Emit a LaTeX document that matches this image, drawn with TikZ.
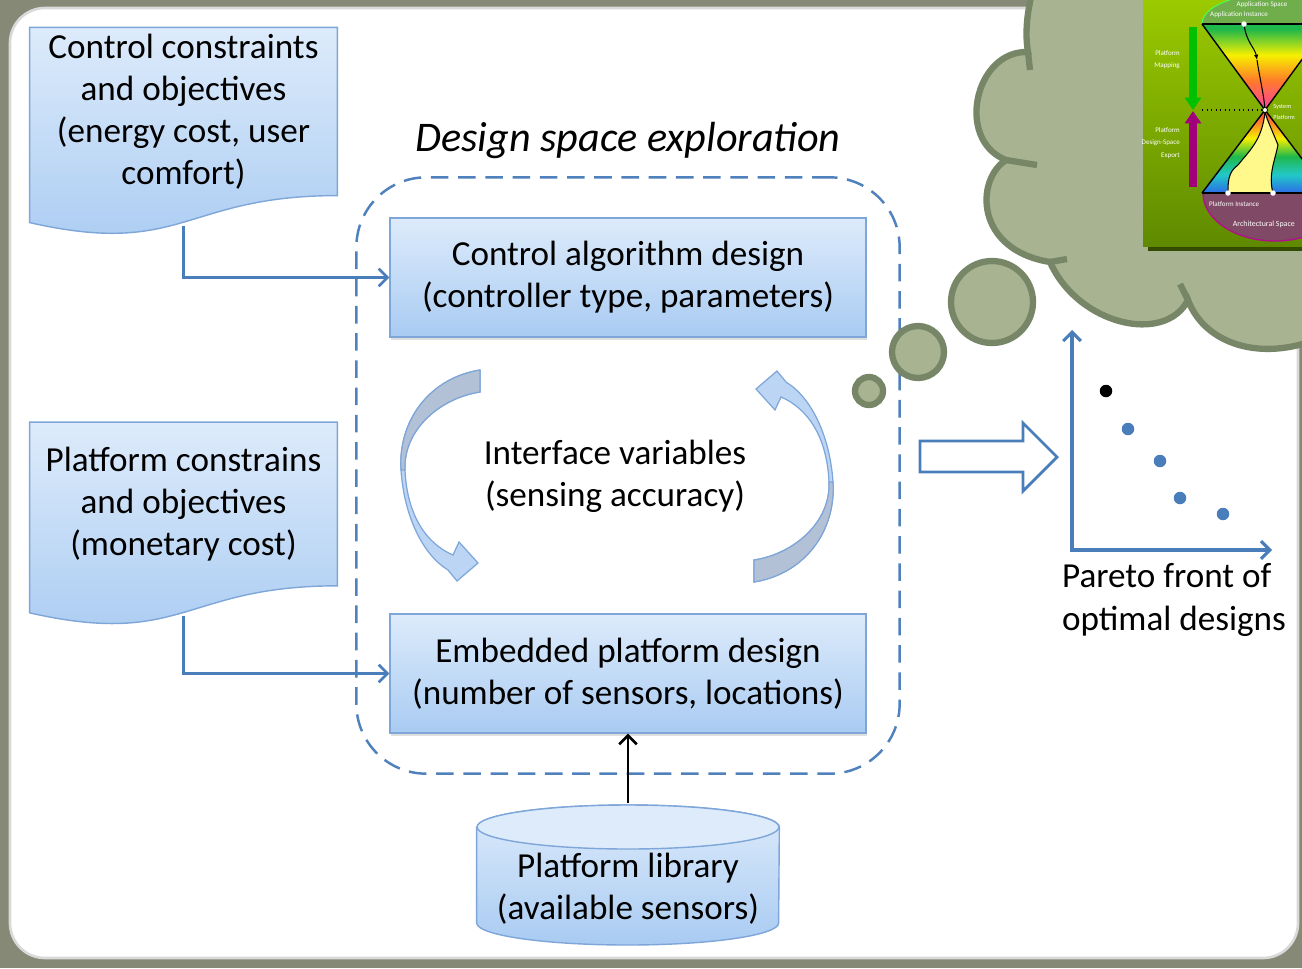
\documentclass[tikz,border=0pt]{standalone}
\usepackage{fontspec}
\setmainfont{Carlito}
\usetikzlibrary{positioning, calc, fit, backgrounds, shadows, arrows.meta}

\definecolor{slidebg}{RGB}{133,137,118}
\definecolor{boxline}{HTML}{7EA6D9}
\definecolor{boxtop}{HTML}{DDEBFB}
\definecolor{boxbottom}{HTML}{A9CBF2}
\definecolor{linkblue}{HTML}{4A7EBB}
\definecolor{dashblue}{HTML}{4F81BD}
\definecolor{turnlight}{HTML}{BCD5F4}
\definecolor{turndark}{HTML}{B3C1D6}
\definecolor{cloudfill}{HTML}{A7B391}
\definecolor{cloudline}{HTML}{788668}
\definecolor{insettop}{HTML}{9CCB00}
\definecolor{insetbottom}{HTML}{5F8A00}
\definecolor{fanpink}{HTML}{FF3FA6}
\definecolor{fanorange}{HTML}{FF7A2A}
\definecolor{fanyellow}{HTML}{F6F000}
\definecolor{fangreen}{HTML}{1FB84A}
\definecolor{fancyan}{HTML}{22C8C8}
\definecolor{fanblue}{HTML}{2C6CE8}
\definecolor{fanred}{HTML}{FF4A3A}

% colour fans of the hourglass
\pgfdeclareverticalshading{upperfan}{100bp}{color(0bp)=(fanpink); color(25bp)=(fanpink); color(42bp)=(fanorange); color(57bp)=(fanyellow); color(72bp)=(fangreen); color(100bp)=(fangreen)}
\pgfdeclareverticalshading{lowerfan}{100bp}{color(0bp)=(fanblue); color(25bp)=(fanblue); color(36bp)=(fancyan); color(47bp)=(fangreen); color(58bp)=(fanyellow); color(68bp)=(fanorange); color(75bp)=(fanred); color(100bp)=(fanred)}

\tikzset{
	txt/.style={font=\fontsize{20}{24}\selectfont, align=center},
	titletxt/.style={font=\fontsize{24}{29}\selectfont\itshape},
	docnode/.style={txt, minimum width=6.14cm, minimum height=3.26cm},
	docshape/.style={draw=boxline, line width=0.8pt, top color=boxtop, bottom color=boxbottom},
	designbox/.style={txt, draw=boxline, line width=0.8pt, top color=boxtop, bottom color=boxbottom,
		minimum width=9.52cm, minimum height=2.38cm,
		drop shadow={shadow xshift=0.6pt, shadow yshift=-1.6pt, opacity=0.25}},
	dsebox/.style={draw=dashblue, line width=1.4pt, dash pattern=on 10pt off 5.5pt, rounded corners=1.4cm},
	link/.style={draw=linkblue, line width=1.5pt, -{Straight Barb[length=5pt, width=10pt]}},
	axis/.style={draw=linkblue, line width=1.8pt, {Straight Barb[length=5pt, width=10pt]}-{Straight Barb[length=5pt, width=10pt]}},
	dot/.style={circle, inner sep=0pt, minimum size=0.25cm, fill=linkblue},
	hollowarrow/.style={draw=linkblue, line width=1.6pt, fill=white, line join=miter},
	bubble/.style={fill=cloudfill, draw=cloudline, line width=3.6pt},
	tiny/.style={text=white, font=\fontsize{4}{7}\selectfont},
	pics/turnarrow/.style={code={
		\filldraw[fill=turnlight, draw=boxline, line width=0.7pt]
			(-137,-106) .. controls (-187,-98) and (-219,-56) .. (-216,-6)
			.. controls (-213,39) and (-195,78) .. (-169,94) -- (-160,105) -- (-139,87) -- (-158,66) -- (-164,79)
			.. controls (-190,68) and (-210,40) .. (-212,-6)
			.. controls (-214,-46) and (-177,-78) .. (-137,-84) -- cycle;
		\filldraw[fill=turndark, draw=boxline, line width=0.7pt]
			(-137,-106) .. controls (-187,-98) and (-219,-56) .. (-216,-6)
			-- (-212,-6) .. controls (-214,-46) and (-177,-78) .. (-137,-84) -- cycle;
	}}
}

\begin{document}
\begin{tikzpicture}[x=0.02cm, y=-0.02cm]
	\useasboundingbox (0,0) rectangle (1302,968);
	\clip (0,0) rectangle (1302,968);
	
	% slide
	\begin{scope}[on background layer]
		\fill[slidebg] (0,0) rectangle (1302,968);
		\filldraw[fill=white, draw=gray!30, line width=1.5pt, rounded corners=0.7cm] (10,8) rectangle (1298,958);
	\end{scope}
	
	% Left: requirements
	\node[docnode] (ctrlreq) at (183.5,111.5) {Control constraints\\and objectives\\(energy cost, user\\comfort)};
	\node[docnode] (platreq) at (183.5,504) {Platform constrains\\and objectives\\(monetary cost)};
	
	% Middle: design boxes
	\node[designbox] (ctrlalg) at (628,277.5) {Control algorithm design\\(controller type, parameters)};
	\node[designbox] (embplat) at (628,673.5) {Embedded platform design\\(number of sensors, locations)};
	\node[txt] (iface) at (615,476) {Interface variables\\(sensing accuracy)};
	\node[dsebox, fit=(ctrlalg)(embplat), inner xsep=0.66cm, inner ysep=0.8cm] (dse) {};
	\node[titletxt, above=0.22cm of dse] (dsetitle) {Design space exploration};
	
	% Bottom: library
	\node[txt, minimum width=6.04cm, minimum height=2.8cm] (pltlib) at (628,889) {Platform library\\(available sensors)};
	
	\begin{scope}[on background layer]
		\path[docshape] (ctrlreq.north west) -- (ctrlreq.north east) -- (ctrlreq.south east)
			.. controls (ctrlreq.south) and ($(ctrlreq.south)+(0,62)$) .. ($(ctrlreq.south west)+(0,27)$) -- cycle;
		\path[docshape] (platreq.north west) -- (platreq.north east) -- (platreq.south east)
			.. controls (platreq.south) and ($(platreq.south)+(0,62)$) .. ($(platreq.south west)+(0,27)$) -- cycle;
		\path[docshape] ($(pltlib.west)+(0,-62)$) -- ($(pltlib.west)+(0,34)$)
			arc[start angle=180, end angle=360, x radius=3.02cm, y radius=0.44cm]
			-- ($(pltlib.east)+(0,-62)$)
			arc[start angle=0, end angle=180, x radius=3.02cm, y radius=0.44cm] -- cycle;
		\filldraw[draw=boxline, line width=0.8pt, fill=boxtop] ($(pltlib.center)+(0,-62)$) ellipse [x radius=3.02cm, y radius=0.44cm];
	\end{scope}
	
	% connectors
	\draw[link] ($(ctrlreq.south)+(0,30)$) |- (ctrlalg.west);
	\draw[link] ($(platreq.south)+(0,30)$) |- (embplat.west);
	\draw[link, draw=black] ($(pltlib.center)+(0,-86)$) -- (embplat.south);
	
	% turning arrows round the interface
	\pic at (617,476) {turnarrow};
	\pic[rotate=180] at (617,476) {turnarrow};
	
	% result arrow
	\draw[hollowarrow] (920,441) -- (1023,441) -- (1023,423) -- (1057,457) -- (1023,491) -- (1023,472) -- (920,472) -- cycle;
	
	% Pareto front
	\coordinate (origin) at (1072,550);
	\coordinate (ytip) at (1072,330);
	\coordinate (xtip) at (1272,550);
	\draw[axis] (ytip) -- (origin) -- (xtip);
	\node[dot, fill=black] (p1) at (1106,391) {};
	\node[dot] (p2) at (1128,429) {};
	\node[dot] (p3) at (1160,461) {};
	\node[dot] (p4) at (1180,498) {};
	\node[dot] (p5) at (1223,514) {};
	\node[txt, align=left] (pareto) at (1174,600) {Pareto front of\\optimal designs};
	
	% thought bubbles
	\filldraw[bubble] (869,391) circle [radius=0.28cm];
	\filldraw[bubble] (918,352) circle [radius=0.52cm];
	\filldraw[bubble] (992,302) circle [radius=0.82cm];
	\filldraw[bubble] (1036,-20) .. controls (1026,10) and (1025,35) .. (1028,52)
		.. controls (975,50) and (955,140) .. (1006,160)
		.. controls (975,180) and (975,250) .. (1050,262)
		.. controls (1078,325) and (1165,345) .. (1188,300)
		.. controls (1205,345) and (1262,362) .. (1320,338)
		-- (1320,-20) -- cycle;
	\draw[cloudline, line width=3.6pt] (1028,52) -- (1030,70);
	\draw[cloudline, line width=3.6pt] (1006,160) -- (1037,165);
	\draw[cloudline, line width=3.6pt] (1050,262) -- (1067,259);
	\draw[cloudline, line width=3.6pt] (1188,300) -- (1180,284);
	
	% hourglass picture
	\fill[black!45!insetbottom] (1148,5) rectangle (1320,251);
	\shade[top color=insettop, bottom color=insetbottom] (1143,-5) rectangle (1320,246);
	\filldraw[fill={rgb,255:red,112;green,174;blue,76}, draw=green!70!white, line width=0.6pt]
		(1202,24) arc[start angle=180, end angle=0, x radius=1.36cm, y radius=0.6cm] -- cycle;
	\filldraw[fill={rgb,255:red,128;green,74;blue,102}, draw={rgb,255:red,176;green,16;blue,138}, line width=0.8pt]
		(1203,193) arc[start angle=180, end angle=360, x radius=1.44cm, y radius=0.96cm] -- cycle;
	\shade[shading=upperfan] (1202,24) -- (1328,24) -- (1265,110) -- cycle;
	\shade[shading=lowerfan] (1265,110) -- (1202,193) -- (1328,193) -- cycle;
	\fill[yellow!45] (1265,112) .. controls (1262,140) and (1250,150) .. (1238,165)
		.. controls (1228,172) and (1228,182) .. (1228,193) -- (1273,193)
		.. controls (1268,175) and (1275,160) .. (1278,145)
		.. controls (1272,130) and (1267,120) .. (1265,112) -- cycle;
	\draw[line width=0.6pt] (1265,112) .. controls (1262,140) and (1250,150) .. (1238,165)
		.. controls (1228,172) and (1228,182) .. (1228,193);
	\draw[line width=0.6pt] (1273,193) .. controls (1268,175) and (1275,160) .. (1278,145)
		.. controls (1272,130) and (1267,120) .. (1265,112);
	\draw[line width=0.6pt, -{Latex[length=3pt, width=2.5pt]}] (1244,24) .. controls (1246,42) and (1255,48) .. (1257,60);
	\draw[line width=0.6pt] (1257,60) .. controls (1260,80) and (1264,95) .. (1265,110);
	\draw[line width=1pt] (1202,24) -- (1328,24);
	\draw[line width=0.8pt] (1202,24) -- (1265,110) -- (1328,24);
	\draw[line width=0.8pt] (1202,193) -- (1265,110) -- (1328,193);
	\draw[line width=1pt] (1202,193) -- (1328,193);
	\draw[line width=0.6pt, dotted] (1202,110) -- (1262,110);
	\filldraw[fill=white, draw=black, line width=0.4pt] (1265,110) circle [radius=0.05cm];
	\fill[white] (1244,24) circle [radius=0.055cm];
	\fill[white] (1228,193) circle [radius=0.055cm];
	\fill[white] (1273,193) circle [radius=0.055cm];
	\draw[line width=4.2pt, draw={rgb,255:red,0;green,192;blue,0}, -{Triangle[length=7pt, width=9pt]}] (1193,27) -- (1193,110);
	\draw[line width=4.2pt, draw={rgb,255:red,160;green,0;blue,122}, -{Triangle[length=7pt, width=9pt]}] (1193,187) -- (1193,111);
	\node[tiny, font=\fontsize{4}{6}\selectfont] (appspace) at (1262,5) {Application Space};
	\node[tiny, anchor=west] (appinst) at (1204,15) {Application Instance};
	\node[tiny, align=right, anchor=east] (pmap) at (1186,60) {Platform\\Mapping};
	\node[tiny, align=right, anchor=east] (pexport) at (1186,143) {Platform\\Design-Space\\Export};
	\node[tiny, align=left, anchor=east, font=\fontsize{3.5}{6}\selectfont] (sysplat) at (1301,112) {System\\Platform};
	\node[tiny, anchor=west] (platinst) at (1203,204) {Platform Instance};
	\node[tiny, font=\fontsize{4.5}{7}\selectfont, anchor=east] (archspace) at (1301,224) {Architectural Space};
\end{tikzpicture}
\end{document}
